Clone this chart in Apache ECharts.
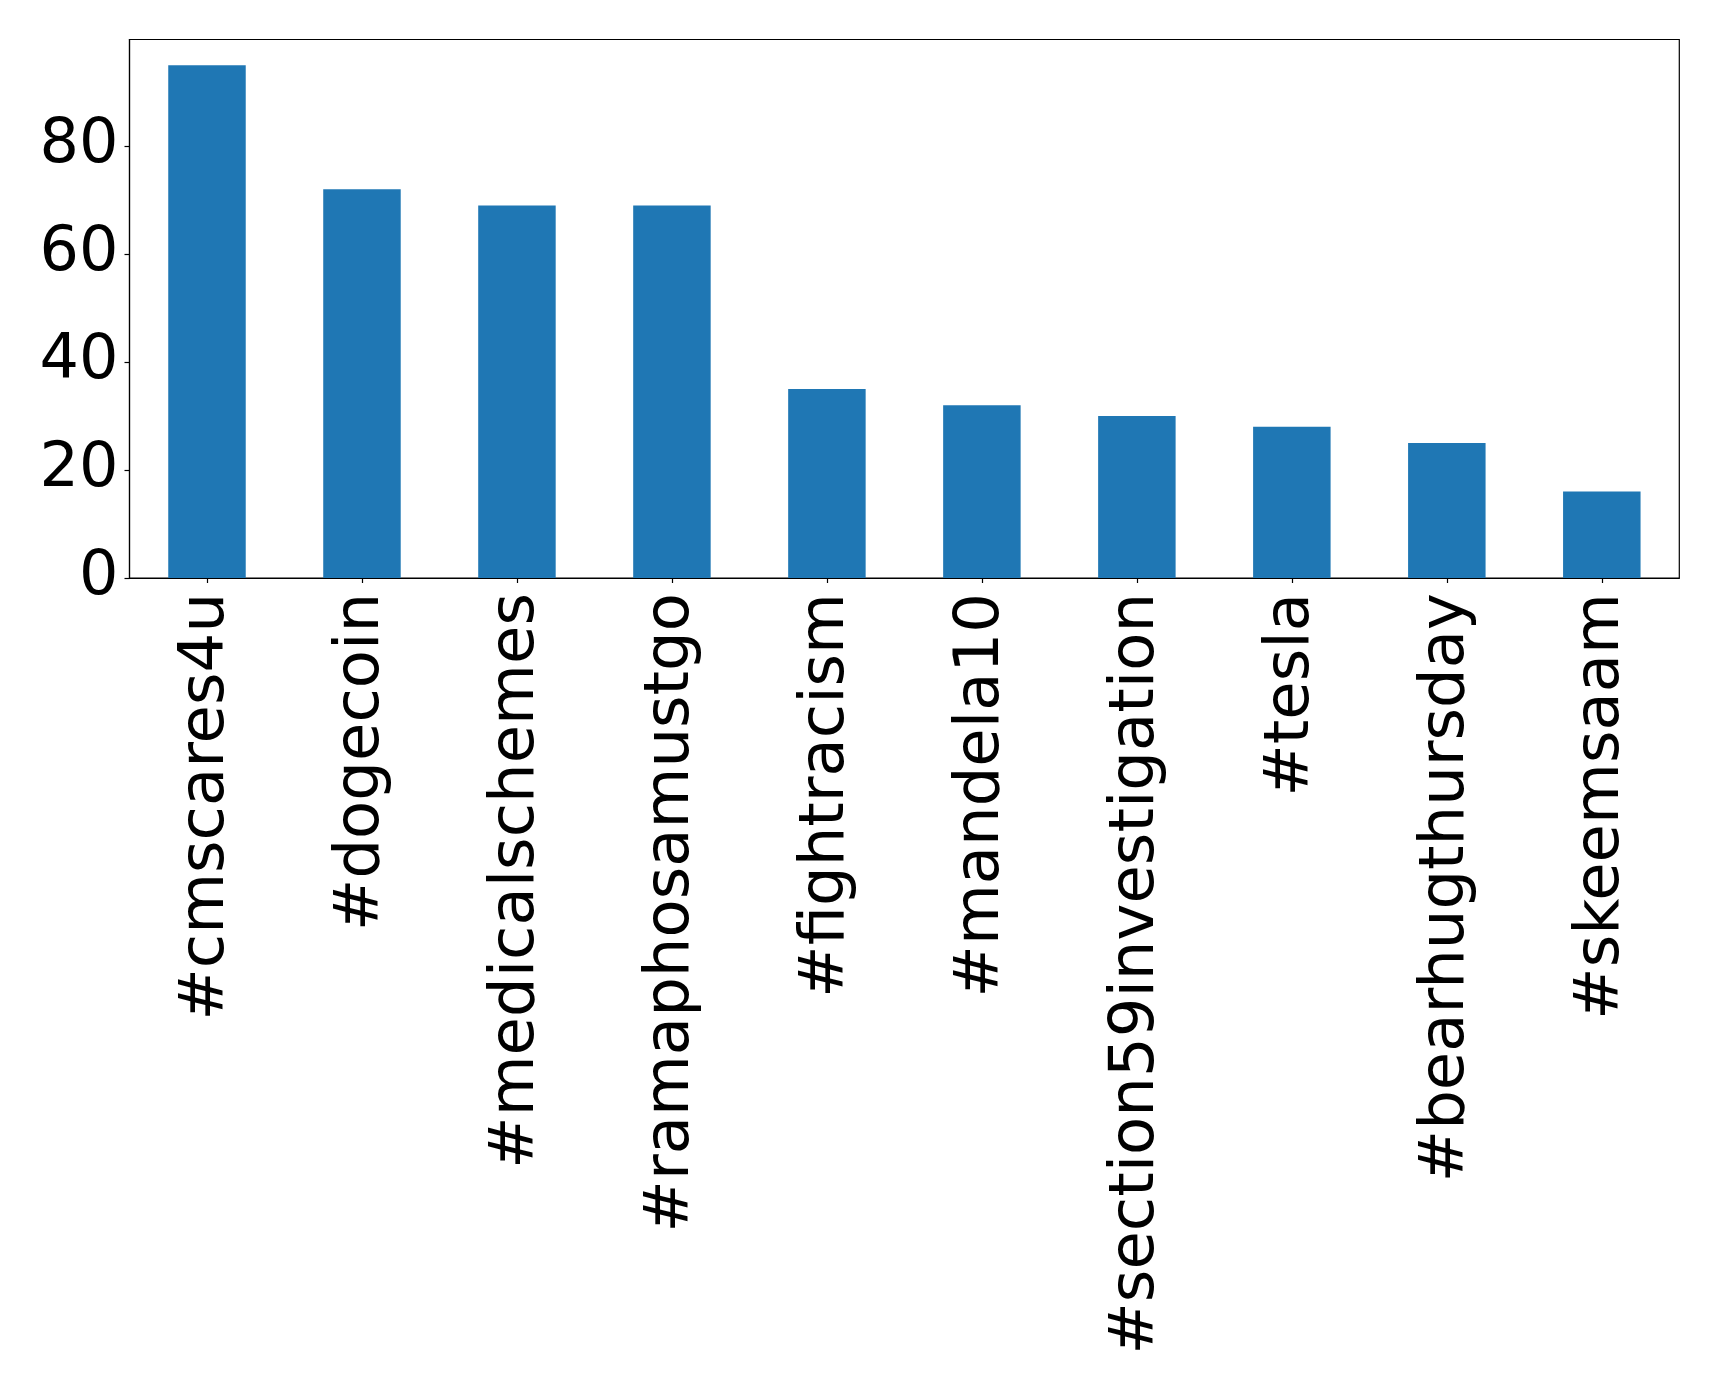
<!DOCTYPE html>
<html>
<head>
<meta charset="utf-8">
<script src="https://cdn.jsdelivr.net/npm/echarts@6/dist/echarts.min.js"></script>
<style>
html,body{margin:0;padding:0;background:#fff;}
#chart{width:1719px;height:1389px;}
</style>
</head>
<body>
<div id="chart"></div>
<script>
const categories = ["#cmscares4u","#dogecoin","#medicalschemes","#ramaphosamustgo","#fightracism","#mandela10","#section59investigation","#tesla","#bearhugthursday","#skeemsaam"];
const counts = [95, 72, 69, 69, 35, 32, 30, 28, 25, 16];
const yTicks = [0, 20, 40, 60, 80];
const yMax = 99.75;

const chart = echarts.init(document.getElementById('chart'), null, {renderer: 'canvas'});
const font = 'DejaVu Sans';
chart.setOption({
  animation: false,
  backgroundColor: '#ffffff',
  grid: {left: 129.5, right: 39.7, top: 39.5, bottom: 811, show: true, borderColor: '#000', borderWidth: 1.2, containLabel: false},
  xAxis: {
    type: 'category',
    data: categories,
    boundaryGap: true,
    axisLine: {show: true, lineStyle: {color: '#000', width: 1.2}},
    axisTick: {show: true, alignWithLabel: true, length: 5, lineStyle: {color: '#000', width: 1.2}},
    axisLabel: {rotate: 90, interval: 0, margin: 15, fontFamily: font, fontSize: 62.5, color: '#000'},
    splitLine: {show: false}
  },
  yAxis: {
    type: 'value',
    min: 0,
    max: yMax,
    interval: 20,
    axisLine: {show: true, lineStyle: {color: '#000', width: 1.2}},
    axisTick: {show: true, length: 5, customValues: yTicks, lineStyle: {color: '#000', width: 1.2}},
    axisLabel: {margin: 11, fontFamily: font, fontSize: 62, color: '#000', customValues: yTicks},
    splitLine: {show: false}
  },
  series: [{
    type: 'bar',
    data: counts,
    barWidth: '50%',
    itemStyle: {color: '#1f77b4'}
  }]
});
</script>
</body>
</html>
